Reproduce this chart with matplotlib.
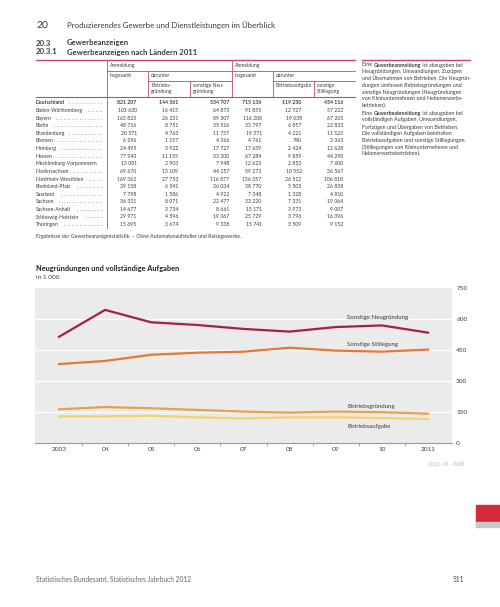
import matplotlib
matplotlib.use("Agg")
import matplotlib.pyplot as plt
from matplotlib.lines import Line2D

plt.rcParams['font.family'] = ['Lato', 'DejaVu Sans']

# chart data (in 1 000)
years = [2003, 2004, 2005, 2006, 2007, 2008, 2009, 2010, 2011]
year_labels = ["2003", "04", "05", "06", "07", "08", "09", "10", "2011"]
sonstige_neugruendung = [514, 644, 584, 571, 552, 539, 561, 569, 534]
sonstige_stillegung = [382, 397, 427, 437, 442, 461, 447, 442, 452]
betriebsgruendung = [163, 174, 168, 160, 152, 147, 152, 149, 142]
betriebsaufgabe = [129, 129, 132, 124, 119, 124, 124, 121, 116]
y_ticks = [0, 150, 300, 450, 600, 750]

# table data
laender = ["Deutschland", "Baden-Württemberg", "Bayern", "Berlin", "Brandenburg",
           "Bremen", "Hamburg", "Hessen", "Mecklenburg-Vorpommern", "Niedersachsen",
           "Nordrhein-Westfalen", "Rheinland-Pfalz", "Saarland", "Sachsen",
           "Sachsen-Anhalt", "Schleswig-Holstein", "Thüringen"]
an_insgesamt = ["821 207", "103 630", "163 823", "48 716", "20 571", "6 296", "24 495",
                "77 943", "13 081", "69 670", "169 362", "39 158", "7 798", "36 331",
                "14 677", "29 971", "15 695"]
an_betriebsgruendung = ["144 361", "16 415", "26 231", "8 751", "4 763", "1 157", "3 922",
                        "11 155", "2 903", "13 109", "27 753", "6 541", "1 586", "8 071",
                        "3 734", "4 596", "3 674"]
an_sonstige = ["534 707", "64 873", "89 307", "35 516", "11 737", "4 366", "17 727",
               "53 300", "7 948", "44 257", "116 877", "26 034", "4 922", "22 477",
               "8 661", "19 367", "9 338"]
ab_insgesamt = ["715 136", "91 855", "116 208", "33 797", "19 371", "4 761", "17 639",
                "67 284", "12 623", "59 273", "156 357", "38 770", "7 348", "33 220",
                "15 171", "25 729", "15 741"]
ab_betriebsaufgabe = ["119 230", "12 727", "19 038", "6 857", "4 221", "740", "2 424",
                      "9 859", "2 852", "10 552", "26 512", "5 505", "1 328", "7 331",
                      "3 973", "3 796", "3 509"]
ab_sonstige = ["454 116", "57 222", "67 205", "22 833", "11 523", "3 363", "12 628",
               "44 290", "7 600", "36 567", "106 818", "26 838", "4 810", "19 064",
               "9 007", "16 396", "9 152"]

W, H = 500, 607
fig = plt.figure(figsize=(W / 100, H / 100), dpi=100)
renderer = fig.canvas.get_renderer()

TXT = "#3c3c3c"
PINK = "#c4496a"


def px(x, y):
    return x / W, 1 - y / H


def text(x, y, s, **kw):
    kw.setdefault("color", TXT)
    kw.setdefault("va", "center")
    return fig.text(*px(x, y), s, **kw)


def width(t):
    return t.get_window_extent(renderer).width


def hline(x0, x1, y, color=PINK, lw=0.6):
    fig.add_artist(Line2D([x0 / W, x1 / W], [1 - y / H, 1 - y / H], color=color, lw=lw))


def vline(x, y0, y1, color=PINK, lw=0.6):
    fig.add_artist(Line2D([x / W, x / W], [1 - y0 / H, 1 - y1 / H], color=color, lw=lw))


# page header
text(36, 25, "20", fontsize=7.5)
text(67, 25, "Produzierendes Gewerbe und Dienstleistungen im Überblick", fontsize=5.7)
text(36, 43, "20.3", fontsize=5.6, fontweight="bold")
text(67, 43, "Gewerbeanzeigen", fontsize=5.6, fontweight="bold")
text(36, 52, "20.3.1", fontsize=5.6, fontweight="bold")
text(67, 52, "Gewerbeanzeigen nach Ländern 2011", fontsize=5.6, fontweight="bold")

# table frame
hline(36, 355, 60, lw=1.0)
hline(107, 355, 70.5)
hline(148, 232, 80.5)
hline(273, 355, 80.5)
hline(36, 355, 97, lw=0.8)
vline(107, 60, 228)
vline(232, 60, 97)
vline(148, 70.5, 97)
vline(190, 80.5, 97)
vline(273, 70.5, 97)
vline(314, 80.5, 97)

hs = 3.6
text(110, 65.3, "Anmeldung", fontsize=hs)
text(235, 65.3, "Abmeldung", fontsize=hs)
text(110, 75.5, "insgesamt", fontsize=hs)
text(151, 75.5, "darunter", fontsize=hs)
text(235, 75.5, "insgesamt", fontsize=hs)
text(276, 75.5, "darunter", fontsize=hs)
text(151, 88.5, "Betriebs-\ngründung", fontsize=hs, linespacing=1.3)
text(193, 88.5, "sonstige Neu-\ngründung", fontsize=hs, linespacing=1.3)
text(276, 85.5, "Betriebsaufgabe", fontsize=hs)
text(317, 88.5, "sonstige\nStilllegung", fontsize=hs, linespacing=1.3)

ts = 3.7
col_right = [136.7, 178.3, 229, 261.7, 301.7, 343.3]
cols = [an_insgesamt, an_betriebsgruendung, an_sonstige,
        ab_insgesamt, ab_betriebsaufgabe, ab_sonstige]
for i, name in enumerate(laender):
    y = 103 + i * 7.6
    fw = "bold" if i == 0 else "normal"
    t = text(36, y, name, fontsize=ts, fontweight=fw)
    start = 36 + width(t) + 2.5
    d = text(0, -50, ". ", fontsize=ts)
    dw = width(d)
    d.remove()
    n = int((102 - start) / dw)
    if n > 0:
        text(102, y, (". " * n).strip(), fontsize=ts, ha="right")
    for c, xr in zip(cols, col_right):
        text(xr, y, c[i], fontsize=ts, fontweight=fw, ha="right")

text(36, 236.7, "Ergebnisse der Gewerbeanzeigenstatistik. – Ohne Automatenaufsteller und Reisegewerbe.",
     fontsize=3.7)

# sidebar
hline(362, 470, 60, lw=1.0)
sb = 3.75
para1 = [("Eine ", "Gewerbeanmeldung", " ist abzugeben bei"),
         "Neugründungen, Umwandlungen, Zuzügen",
         "und Übernahmen von Betrieben. Die Neugrün-",
         "dungen umfassen Betriebsgründungen und",
         "sonstige Neugründungen (Neugründungen",
         "von Kleinunternehmen und Nebenerwerbs-",
         "betrieben)."]
para2 = [("Eine ", "Gewerbeabmeldung", " ist abzugeben bei"),
         "vollständigen Aufgaben, Umwandlungen,",
         "Fortzügen und Übergaben von Betrieben.",
         "Die vollständigen Aufgaben beinhalten",
         "Betriebsaufgaben und sonstige Stilllegungen",
         "(Stilllegungen von Kleinunternehmen und",
         "Nebenerwerbsbetrieben)."]
for y0, para in [(65, para1), (113.3, para2)]:
    for j, line in enumerate(para):
        y = y0 + j * 6.7
        if isinstance(line, tuple):
            x = 362
            for k, part in enumerate(line):
                t = text(x, y, part, fontsize=sb, fontweight="bold" if k == 1 else "normal")
                x += width(t)
        else:
            text(362, y, line, fontsize=sb)

# chart
text(36, 269, "Neugründungen und vollständige Aufgaben", fontsize=5.3, fontweight="bold",
     color="#222222")
text(36, 277.5, "in 1 000", fontsize=4.6)

ax = fig.add_axes([35 / W, 1 - 443 / H, (452 - 35) / W, (443 - 288) / H])
ax.set_facecolor("#ebebeb")
ax.set_xlim(2002.48, 2011.52)
ax.set_ylim(0, 750)
for v in y_ticks[1:-1]:
    ax.axhline(v, color="white", lw=0.9, zorder=1)

ax.plot(years, sonstige_neugruendung, color="#a5213f", lw=1.6, zorder=3)
ax.plot(years, sonstige_stillegung, color="#e2783a", lw=1.6, zorder=3)
ax.plot(years, betriebsgruendung, color="#eb9f4b", lw=1.6, zorder=3)
ax.plot(years, betriebsaufgabe, color="#f3d468", lw=1.6, zorder=3)

lab = dict(fontsize=4.4, color=TXT, va="center", ha="left", zorder=4)
ax.text(2009.25, 605, "Sonstige Neugründung",
        bbox=dict(facecolor="#ebebeb", edgecolor="none", pad=0.6), **lab)
ax.text(2009.25, 475, "Sonstige Stillegung", **lab)
ax.text(2009.25, 178, "Betriebsgründung", **lab)
ax.text(2009.25, 82, "Betriebsaufgabe", **lab)

for s in ["top", "left", "right"]:
    ax.spines[s].set_visible(False)
ax.spines["bottom"].set_color("#9a9a9a")
ax.spines["bottom"].set_linewidth(0.8)

ax.set_xticks(years)
ax.set_xticklabels(year_labels)
ax.set_xticks([y + 0.5 for y in years[:-1]], minor=True)
ax.tick_params(axis="x", which="major", length=0, labelsize=4.6, labelcolor=TXT, pad=3)
ax.tick_params(axis="x", which="minor", length=2, color="#9a9a9a", width=0.6)
ax.yaxis.tick_right()
ax.set_yticks(y_ticks)
ax.tick_params(axis="y", length=0, labelsize=4.6, labelcolor=TXT, pad=3)

text(464, 464, "2012 - 01 - 0630", fontsize=3.4, color="#b0b0b0", ha="right")

# footer
text(36, 579, "Statistisches Bundesamt, Statistisches Jahrbuch 2012", fontsize=4.8, color="#666666")
text(464, 579, "511", fontsize=4.8, color="#444444", ha="right")
fig.add_artist(plt.Rectangle((476 / W, 1 - 522 / H), 24 / W, 17 / H, color="#d42a3c",
                             transform=fig.transFigure))
fig.add_artist(plt.Rectangle((476 / W, 1 - 527 / H), 24 / W, 5 / H, color="#c8c8c8",
                             transform=fig.transFigure))

fig.savefig("out.png", dpi=100)
